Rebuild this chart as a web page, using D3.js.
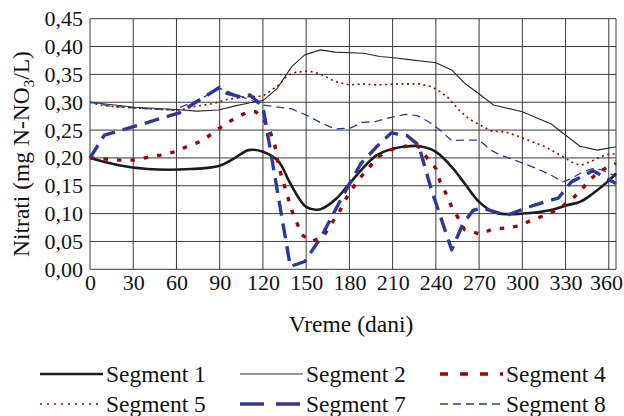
<!DOCTYPE html>
<html>
<head>
<meta charset="utf-8">
<script src="https://cdn.jsdelivr.net/npm/d3@7"></script>
<style>
  html, body { margin: 0; padding: 0; background: #fff; }
  svg { display: block; }
  svg text { font-family: "Liberation Serif", "Times New Roman", Times, serif; }
</style>
</head>
<body>
<svg id="chart" width="624" height="416"></svg>
<script>
// Nitrate concentration along the river segments over one year
const seriesNames = ["Segment 1", "Segment 2", "Segment 4", "Segment 5", "Segment 7", "Segment 8"];

const xTicks = [0, 30, 60, 90, 120, 150, 180, 210, 240, 270, 300, 330, 360];
const yTicks = [0, 0.05, 0.10, 0.15, 0.20, 0.25, 0.30, 0.35, 0.40, 0.45];

const seg1Days = [0, 20, 40, 70, 90, 100, 110, 120, 131, 139, 150, 160, 171, 180, 199, 211, 221, 229, 240, 251, 260, 270, 280, 289, 305, 319, 331, 340, 349, 359, 365];
const seg1Vals = [0.200, 0.187, 0.180, 0.180, 0.186, 0.199, 0.214, 0.211, 0.193, 0.154, 0.112, 0.108, 0.127, 0.154, 0.205, 0.217, 0.221, 0.221, 0.211, 0.184, 0.154, 0.121, 0.103, 0.099, 0.101, 0.106, 0.115, 0.121, 0.136, 0.157, 0.172];

const seg2Days = [0, 31, 60, 74, 89, 100, 111, 120, 130, 140, 149, 160, 170, 190, 201, 211, 220, 240, 251, 260, 271, 280, 300, 320, 340, 352, 365];
const seg2Vals = [0.300, 0.291, 0.287, 0.284, 0.286, 0.293, 0.299, 0.303, 0.325, 0.364, 0.385, 0.394, 0.390, 0.388, 0.382, 0.380, 0.377, 0.371, 0.358, 0.334, 0.313, 0.295, 0.283, 0.261, 0.221, 0.214, 0.220];

const seg4Days = [0, 21, 30, 40, 49, 59, 67, 77, 85, 93, 101, 110, 115, 120, 125, 128, 131, 140, 147, 154, 162, 167, 173, 177, 182, 188, 194, 200, 209, 219, 228, 234, 240, 243, 247, 251, 256, 260, 271, 279, 288, 298, 307, 316, 325, 333, 340, 346, 353, 362, 365];
const seg4Vals = [0.200, 0.196, 0.196, 0.201, 0.205, 0.211, 0.220, 0.230, 0.244, 0.259, 0.272, 0.283, 0.283, 0.271, 0.247, 0.226, 0.184, 0.106, 0.062, 0.050, 0.059, 0.080, 0.103, 0.124, 0.145, 0.166, 0.184, 0.202, 0.215, 0.221, 0.221, 0.200, 0.181, 0.157, 0.136, 0.112, 0.090, 0.071, 0.063, 0.072, 0.074, 0.078, 0.089, 0.097, 0.108, 0.123, 0.139, 0.159, 0.175, 0.187, 0.190];

const seg5Days = [0, 7, 17, 35, 51, 62, 72, 86, 95, 109, 120, 126, 131, 137, 143, 152, 158, 162, 168, 172, 180, 189, 199, 214, 228, 237, 243, 249, 256, 263, 270, 279, 288, 298, 307, 316, 325, 330, 336, 341, 347, 352, 356, 361, 365];
const seg5Vals = [0.300, 0.295, 0.292, 0.289, 0.287, 0.286, 0.292, 0.298, 0.305, 0.310, 0.311, 0.322, 0.331, 0.348, 0.354, 0.356, 0.352, 0.348, 0.340, 0.336, 0.331, 0.333, 0.331, 0.333, 0.333, 0.328, 0.319, 0.307, 0.286, 0.270, 0.260, 0.248, 0.247, 0.238, 0.229, 0.220, 0.207, 0.199, 0.190, 0.187, 0.193, 0.199, 0.204, 0.207, 0.207];

const seg7Days = [0, 10, 30, 62, 90, 95, 104, 111, 120, 139, 149, 160, 175, 188, 200, 209, 220, 228, 237, 251, 259, 266, 272, 289, 308, 325, 334, 349, 365];
const seg7Vals = [0.200, 0.241, 0.256, 0.281, 0.327, 0.316, 0.310, 0.313, 0.292, 0.005, 0.014, 0.056, 0.130, 0.190, 0.223, 0.245, 0.240, 0.223, 0.142, 0.035, 0.083, 0.106, 0.110, 0.097, 0.115, 0.128, 0.157, 0.177, 0.154];

const seg8Days = [0, 14, 35, 58, 76, 90, 105, 120, 140, 150, 161, 170, 181, 189, 198, 207, 219, 227, 235, 242, 251, 260, 270, 278, 285, 298, 310, 320, 328, 334, 342, 349, 356, 365];
const seg8Vals = [0.300, 0.293, 0.289, 0.286, 0.305, 0.325, 0.310, 0.295, 0.288, 0.277, 0.262, 0.252, 0.254, 0.264, 0.265, 0.272, 0.278, 0.276, 0.265, 0.252, 0.231, 0.232, 0.232, 0.214, 0.205, 0.193, 0.181, 0.169, 0.157, 0.163, 0.175, 0.181, 0.178, 0.166];

const svg = d3.select("#chart");
const W = 624;
const serif = "'Liberation Serif', 'Times New Roman', Times, serif";

const x = d3.scaleLinear().domain([0, 365]).range([90, 616]);
const y = d3.scaleLinear().domain([0, 0.45]).range([269.3, 18.7]);

const gridColor = "#3a3a3a";
const grid = svg.append("g");

// horizontal grid lines
grid.selectAll("line.h").data(yTicks).join("line")
  .attr("x1", x(0)).attr("x2", x(365))
  .attr("y1", d => y(d)).attr("y2", d => y(d))
  .attr("stroke", gridColor).attr("stroke-width", 1);

// vertical grid lines, plus the right edge of the plot
grid.selectAll("line.v").data(xTicks.concat([365])).join("line")
  .attr("x1", d => x(d)).attr("x2", d => x(d))
  .attr("y1", y(0)).attr("y2", y(0.45))
  .attr("stroke", gridColor).attr("stroke-width", 1);

const commaFmt = v => d3.format(".2f")(v).replace(".", ",");

// y axis labels
const yAxis = svg.append("g")
  .attr("transform", `translate(${x(0)},0)`)
  .call(d3.axisLeft(y).tickValues(yTicks).tickSize(0).tickPadding(7).tickFormat(commaFmt))
  .attr("font-family", serif);
yAxis.select(".domain").remove();
yAxis.selectAll("text")
  .style("font-family", serif)
  .attr("font-size", 22).attr("fill", "#111");

// x axis labels
const xAxis = svg.append("g")
  .attr("transform", `translate(0,${y(0)})`)
  .call(d3.axisBottom(x).tickValues(xTicks).tickSize(0).tickPadding(4).tickFormat(d3.format("d")))
  .attr("font-family", serif);
xAxis.select(".domain").remove();
xAxis.selectAll("text")
  .style("font-family", serif)
  .attr("font-size", 22).attr("fill", "#111")
  .attr("dy", "0.74em");
// keep the last label inside the drawing area
xAxis.selectAll(".tick").each(function() {
  const t = d3.select(this).select("text");
  const box = this.getBBox();
  const m = this.transform.baseVal.consolidate().matrix;
  const right = m.e + box.x + box.width;
  if (right > W - 1) t.attr("x", (W - 1) - right);
});

// axis titles
svg.append("text")
  .attr("x", 351).attr("y", 332)
  .attr("text-anchor", "middle")
  .style("font-family", serif)
  .attr("font-size", 23.5).attr("fill", "#111")
  .text("Vreme (dani)");

const yTitle = svg.append("text")
  .attr("transform", "translate(29,154) rotate(-90)")
  .attr("text-anchor", "middle")
  .style("font-family", serif)
  .attr("font-size", 23.5).attr("fill", "#111");
yTitle.append("tspan").text("Nitrati (mg N-NO");
yTitle.append("tspan").attr("font-size", 15).attr("dy", 5).text("3");
yTitle.append("tspan").attr("dy", -5).text("/L)");

// series styles
const blue = "#2c3a95";
const red = "#9a0505";
const series = [
  { name: seriesNames[0], days: seg1Days, vals: seg1Vals, color: "#1c1c1c", width: 2.6, dash: null, legendDash: null, curve: d3.curveCatmullRom },
  { name: seriesNames[1], days: seg2Days, vals: seg2Vals, color: "#2a2a2a", width: 1.1, dash: null, legendDash: null, curve: d3.curveLinear },
  { name: seriesNames[2], days: seg4Days, vals: seg4Vals, color: red, width: 3.4, dash: "4.5,9", legendDash: "8,12", curve: d3.curveLinear },
  { name: seriesNames[3], days: seg5Days, vals: seg5Vals, color: red, width: 1.6, dash: "2,3.5", legendDash: "2,5", curve: d3.curveLinear },
  { name: seriesNames[4], days: seg7Days, vals: seg7Vals, color: blue, width: 3.4, dash: "15,8", legendDash: "24,12", curve: d3.curveLinear },
  { name: seriesNames[5], days: seg8Days, vals: seg8Vals, color: blue, width: 1.3, dash: "8,5", legendDash: "8,5", curve: d3.curveLinear }
];

const lineGen = d3.line().x(d => x(d[0])).y(d => y(d[1]));

svg.append("g").selectAll("path").data(series).join("path")
  .attr("d", s => lineGen.curve(s.curve)(d3.zip(s.days, s.vals)))
  .attr("fill", "none")
  .attr("stroke", s => s.color)
  .attr("stroke-width", s => s.width)
  .attr("stroke-dasharray", s => s.dash)
  .attr("stroke-linejoin", "round");

// legend: three columns, two rows
const legendCols = [40, 240, 440];
const legendRows = [374, 404];
const legend = svg.append("g");
const items = legend.selectAll("g").data(series).join("g")
  .attr("transform", (s, i) => `translate(${legendCols[i % 3]},${legendRows[Math.floor(i / 3)]})`);
items.append("line")
  .attr("x1", 0).attr("x2", 63).attr("y1", 0).attr("y2", 0)
  .attr("stroke", s => s.color)
  .attr("stroke-width", s => s.width)
  .attr("stroke-dasharray", s => s.legendDash);
items.append("text")
  .attr("x", 66).attr("y", 0).attr("dy", "0.33em")
  .style("font-family", serif)
  .attr("font-size", 23.5).attr("fill", "#111")
  .text(s => s.name);
</script>
</body>
</html>
